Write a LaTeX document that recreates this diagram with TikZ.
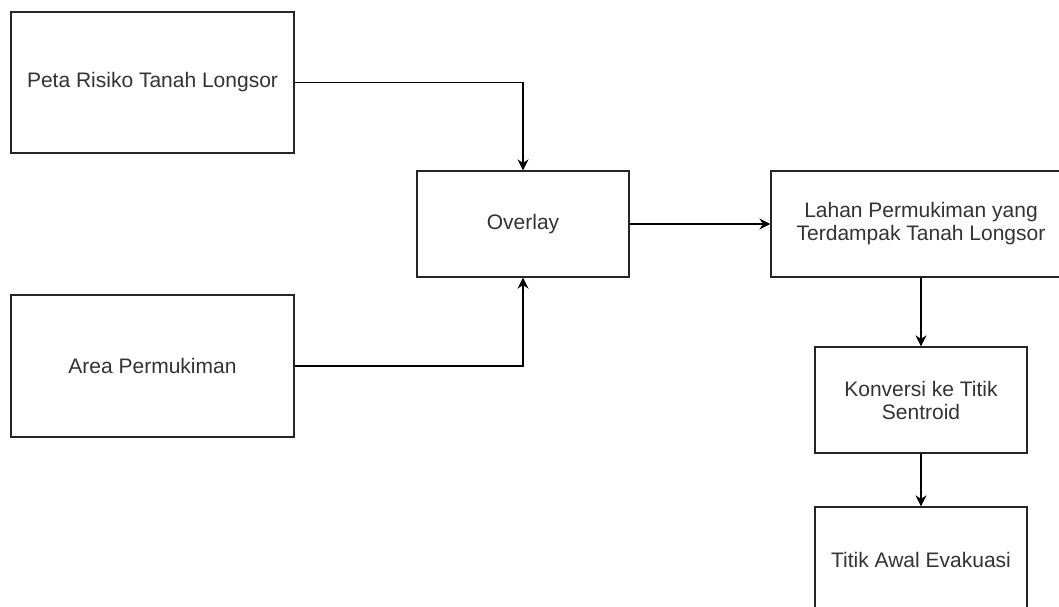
\documentclass[tikz,border=0pt]{standalone}
\usepackage{fontspec}
\setmainfont{Liberation Sans}
\usetikzlibrary{arrows.meta}
\begin{document}
\begin{tikzpicture}[x=1pt,y=-1pt,
  box/.style={draw=black!85, line width=1.3pt, fill=white, align=center,
    text=black!80, font=\fontsize{21}{23}\selectfont, inner sep=0pt},
  conn/.style={draw=black, line width=1.3pt, -{Stealth[length=11pt,width=11pt]}}]
\useasboundingbox (0,0) rectangle (1059,606);
\node[box, minimum width=283pt, minimum height=141pt] (A) at (152.5,82.5) {Peta Risiko Tanah Longsor};
\node[box, minimum width=283pt, minimum height=142pt] (B) at (152.5,366) {Area Permukiman};
\node[box, minimum width=212pt, minimum height=106pt] (O) at (523,224) {Overlay};
\node[box, minimum width=300pt, minimum height=106pt] (L) at (921,224) {Lahan Permukiman yang\\Terdampak Tanah Longsor};
\node[box, minimum width=212pt, minimum height=106pt] (K) at (921,400) {Konversi ke Titik\\Sentroid};
\node[box, minimum width=212pt, minimum height=106pt] (T) at (921,560) {Titik Awal Evakuasi};
\draw[conn] (A.east) -| (O.north);
\draw[conn] (B.east) -| (O.south);
\draw[conn] (O.east) -- (L.west);
\draw[conn] (L.south) -- (K.north);
\draw[conn] (K.south) -- (T.north);
\end{tikzpicture}
\end{document}
